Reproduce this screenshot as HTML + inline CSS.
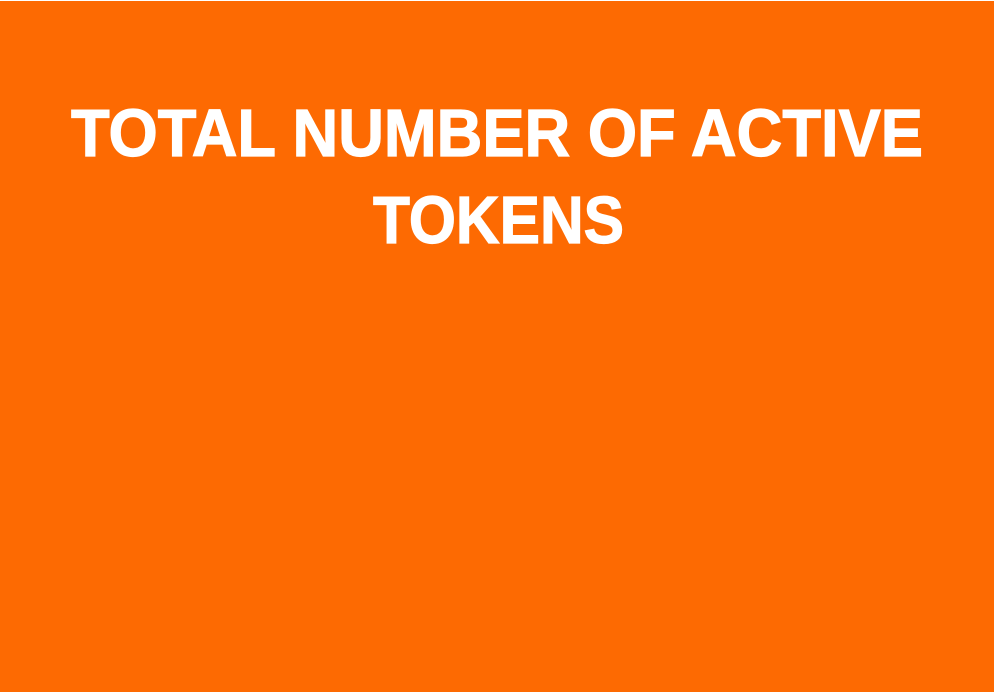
<!DOCTYPE html>
<html><head><meta charset="utf-8"><style>
html,body{margin:0;padding:0;background:#fff;}
body{width:994px;height:696px;overflow:hidden;position:relative;}
#panel{position:absolute;left:0;top:1px;width:994px;height:691px;background:#fd6a02;}
svg{position:absolute;left:0;top:0;}
</style></head><body>
<div id="panel"></div>
<svg width="994" height="696">
<text x="71" y="156" font-family="Liberation Sans, sans-serif" font-weight="bold" font-size="67" fill="#fff" stroke="#fff" stroke-width="1.2" textLength="852" lengthAdjust="spacingAndGlyphs">TOTAL NUMBER OF ACTIVE</text>
<text x="373" y="243" font-family="Liberation Sans, sans-serif" font-weight="bold" font-size="67" fill="#fff" stroke="#fff" stroke-width="1.2" textLength="251" lengthAdjust="spacingAndGlyphs">TOKENS</text>
</svg>
</body></html>
